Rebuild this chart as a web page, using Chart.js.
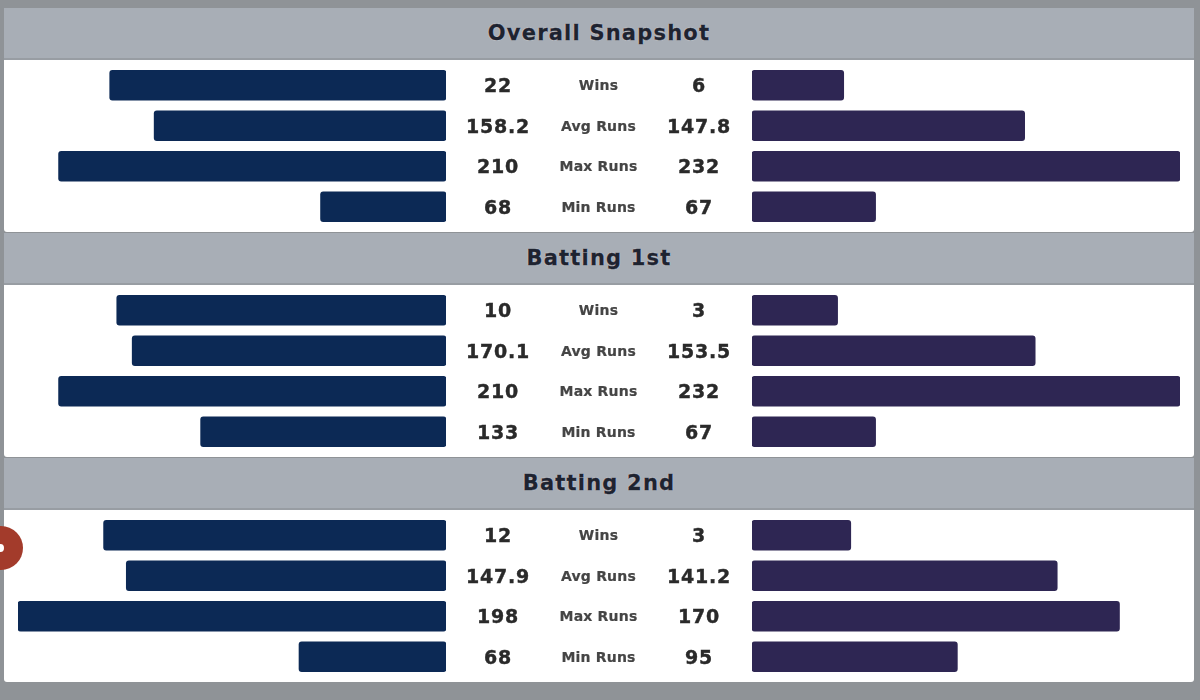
<!DOCTYPE html>
<html>
<head>
<meta charset="utf-8">
<script src="https://cdn.jsdelivr.net/npm/chart.js@4"></script>
<style>
    html, body {
        margin: 0;
        padding: 0;
        width: 1200px;
        height: 700px;
        overflow: hidden;
        background: #8f9397;
        font-family: "DejaVu Sans", "Open Sans", sans-serif;
    }
    #board {
        position: absolute;
        left: 4px;
        top: 8px;
        width: 1190px;
    }
    .section {
        height: 225px;
    }
    .head {
        height: 50px;
        background: #a8aeb6;
        border-bottom: 2px solid #989da3;
        text-align: center;
        line-height: 50px;
        font-size: 21px;
        font-weight: bold;
        color: #1e2330;
        -webkit-text-stroke: 0.4px #1e2330;
        text-shadow: 0 0 1px #fff, 0 0 1px #fff;
        letter-spacing: 1.2px;
    }
    .panel {
        position: relative;
        height: 172px;
        background: #fff;
        border-radius: 0 0 3px 3px;
    }
    .bars-left, .bars-right {
        position: absolute;
        top: 0;
        height: 172px;
        width: 428px;
    }
    .bars-left { left: 14px; }
    .bars-right { left: 748px; }
    .center {
        position: absolute;
        left: 441px;
        top: 5px;
        width: 307px;
    }
    .row {
        height: 40.5px;
        display: flex;
        align-items: center;
    }
    .val {
        width: 106px;
        text-align: center;
        font-size: 19px;
        font-weight: bold;
        color: #2a2a2a;
        -webkit-text-stroke: 0.4px #2a2a2a;
        letter-spacing: 0.8px;
    }
    .lab {
        width: 95px;
        text-align: center;
        font-size: 14px;
        font-weight: bold;
        color: #454545;
        -webkit-text-stroke: 0.2px #454545;
        letter-spacing: 0.2px;
        white-space: nowrap;
    }
    #badge {
        position: absolute;
        left: -21px;
        top: 526px;
        width: 44px;
        height: 44px;
        border-radius: 50%;
        background: #a33b2b;
    }
    #badge::after {
        content: "";
        position: absolute;
        left: 18px;
        top: 18px;
        width: 7px;
        height: 8px;
        border-radius: 50%;
        background: #fff;
    }
</style>
</head>
<body>
<div id="board"></div>
<div id="badge"></div>

<script>
const sections = ["Overall Snapshot", "Batting 1st", "Batting 2nd"];
const metrics = ["Wins", "Avg Runs", "Max Runs", "Min Runs"];

// values per section: [wins, avg runs, max runs, min runs]
const leftValues = [
    [22, 158.2, 210, 68],
    [10, 170.1, 210, 133],
    [12, 147.9, 198, 68]
];
const rightValues = [
    [6, 147.8, 232, 67],
    [3, 153.5, 232, 67],
    [3, 141.2, 170, 95]
];

// matches played per section, used for the win share bars
const leftMatches = [28, 13, 15];
const rightMatches = [28, 15, 13];

const leftColor = "#0c2955";
const rightColor = "#2e2653";

const board = document.getElementById("board");

function barShares(values, matches, runMax) {
    return values.map((v, i) => i === 0 ? v / matches : v / runMax);
}

function makeChart(canvas, data, color, reverse) {
    return new Chart(canvas, {
        type: "bar",
        data: {
            labels: metrics,
            datasets: [{
                data: data,
                backgroundColor: color,
                borderRadius: 3,
                borderSkipped: false,
                barThickness: 30
            }]
        },
        options: {
            indexAxis: "y",
            responsive: true,
            maintainAspectRatio: false,
            animation: false,
            layout: { padding: { top: 5, bottom: 5, left: 0, right: 0 } },
            plugins: {
                legend: { display: false },
                tooltip: { enabled: false }
            },
            scales: {
                x: { display: false, min: 0, max: 1, reverse: reverse },
                y: { display: false }
            }
        }
    });
}

sections.forEach((title, s) => {
    let sec = document.createElement("div");
    sec.className = "section";

    let rows = "";
    metrics.forEach((m, i) => {
        rows += `
            <div class="row">
                <div class="val">${leftValues[s][i]}</div>
                <div class="lab">${m}</div>
                <div class="val">${rightValues[s][i]}</div>
            </div>
        `;
    });

    sec.innerHTML = `
        <div class="head">${title}</div>
        <div class="panel">
            <div class="bars-left"><canvas></canvas></div>
            <div class="center">${rows}</div>
            <div class="bars-right"><canvas></canvas></div>
        </div>
    `;
    board.appendChild(sec);

    let runMax = Math.max(...leftValues[s].slice(1), ...rightValues[s].slice(1));
    let canvases = sec.querySelectorAll("canvas");

    makeChart(canvases[0], barShares(leftValues[s], leftMatches[s], runMax), leftColor, true);
    makeChart(canvases[1], barShares(rightValues[s], rightMatches[s], runMax), rightColor, false);
});
</script>
</body>
</html>
